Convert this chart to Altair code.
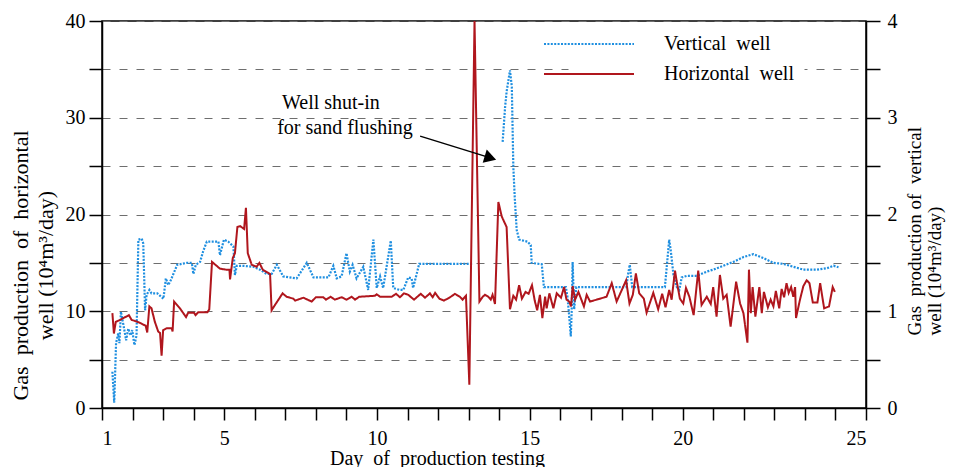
import altair as alt
import pandas as pd

FONT = "Liberation Serif"
V_NAME = "Vertical\u00a0 well"
H_NAME = "Horizontal\u00a0 well"

# Horizontal well gas production (10^4 m3/day, left axis): (day, value)
horizontal_points = [
    (1.34, 9.8), (1.39, 7.7), (1.45, 8.9), (1.59, 9.1), (1.88, 9.6), (1.97, 9.1),
    (2.08, 9.0), (2.24, 8.8), (2.43, 8.5), (2.48, 7.8), (2.55, 10.5), (2.62, 10.3),
    (2.73, 8.9), (2.84, 7.9), (2.90, 7.75), (2.95, 5.4), (3.00, 8.05), (3.12, 8.25),
    (3.28, 8.25), (3.31, 7.9), (3.36, 11.0), (3.55, 10.3), (3.75, 9.4), (3.82, 9.85),
    (4.01, 9.85), (4.06, 9.6), (4.15, 9.9), (4.45, 9.9), (4.51, 10.2), (4.60, 15.1),
    (4.86, 14.4), (5.06, 14.3), (5.17, 14.3), (5.19, 13.3), (5.28, 15.5), (5.35, 16.0),
    (5.43, 18.7), (5.52, 18.8), (5.65, 18.5), (5.71, 20.7), (5.77, 16.0), (5.90, 14.8),
    (6.06, 14.6), (6.15, 15.0), (6.26, 14.3), (6.50, 13.85), (6.55, 10.1), (6.66, 10.65),
    (6.91, 11.85), (7.04, 11.5), (7.26, 11.3), (7.32, 11.1), (7.59, 11.4), (7.86, 11.0),
    (8.00, 11.45), (8.24, 11.45), (8.33, 11.2), (8.48, 11.5), (8.62, 11.2), (8.84, 11.45),
    (9.00, 11.2), (9.17, 11.5), (9.28, 11.2), (9.42, 11.5), (9.93, 11.6), (9.99, 11.75),
    (10.10, 11.5), (10.48, 11.5), (10.62, 11.8), (10.75, 11.45), (10.88, 11.85), (11.02, 11.7),
    (11.21, 11.2), (11.43, 11.8), (11.57, 11.4), (11.73, 11.85), (11.82, 11.45), (11.90, 11.9),
    (12.04, 11.3), (12.19, 11.1), (12.39, 11.45), (12.55, 11.8), (12.71, 11.5), (12.80, 11.2),
    (12.91, 11.6), (13.02, 2.4), (13.19, 40.0), (13.35, 11.0), (13.46, 11.5), (13.53, 11.7),
    (13.64, 11.5), (13.72, 11.2), (13.78, 11.7), (13.86, 10.75), (13.97, 21.3), (14.08, 19.8),
    (14.24, 18.7), (14.35, 10.2), (14.46, 11.6), (14.55, 11.2), (14.65, 12.7), (14.74, 11.3),
    (14.86, 12.0), (14.96, 11.8), (15.07, 12.7), (15.16, 11.1), (15.24, 10.1), (15.33, 11.7),
    (15.41, 9.3), (15.50, 11.5), (15.55, 10.3), (15.64, 11.85), (15.77, 10.3), (15.88, 11.85),
    (16.02, 11.4), (16.12, 12.5), (16.20, 11.2), (16.29, 11.0), (16.35, 10.5), (16.40, 12.6),
    (16.48, 11.2), (16.59, 12.0), (16.77, 10.5), (16.86, 11.7), (16.97, 11.0), (17.51, 11.5),
    (17.68, 12.9), (17.84, 11.0), (18.15, 13.2), (18.26, 10.8), (18.37, 11.7), (18.47, 13.9),
    (18.58, 11.85), (18.73, 11.3), (18.82, 9.85), (19.04, 11.9), (19.20, 10.2), (19.33, 11.8),
    (19.44, 10.4), (19.56, 12.2), (19.64, 11.2), (19.75, 14.2), (19.80, 13.2), (19.91, 11.3),
    (20.02, 10.8), (20.11, 12.4), (20.22, 11.5), (20.36, 9.6), (20.51, 14.2), (20.62, 10.65),
    (20.79, 11.5), (20.92, 10.75), (21.00, 12.5), (21.11, 9.45), (21.22, 13.75), (21.33, 11.3),
    (21.44, 11.7), (21.57, 8.4), (21.75, 13.05), (21.88, 10.8), (21.99, 9.8), (22.12, 6.75),
    (22.17, 14.3), (22.23, 9.8), (22.29, 12.5), (22.38, 9.45), (22.51, 12.5), (22.59, 9.8),
    (22.66, 12.0), (22.79, 10.4), (22.88, 11.2), (22.97, 10.5), (23.05, 12.1), (23.16, 10.3),
    (23.24, 12.3), (23.32, 11.45), (23.40, 12.9), (23.47, 11.9), (23.55, 12.5), (23.62, 11.5),
    (23.68, 12.5), (23.71, 9.3), (23.84, 11.2), (23.95, 12.6), (24.06, 13.2), (24.15, 12.9),
    (24.26, 10.9), (24.41, 10.9), (24.50, 12.9), (24.63, 10.3), (24.79, 10.5), (24.91, 12.5),
    (24.98, 12.0),
]

# Vertical well gas production (10^4 m3/day, right axis), before shut-in
vertical_before = [
    (1.34, 0.375), (1.40, 0.055), (1.46, 0.67), (1.53, 0.77), (1.57, 0.67), (1.62, 0.995),
    (1.70, 0.86), (1.79, 0.70), (1.86, 0.82), (1.94, 0.75), (1.99, 0.805), (2.06, 0.65),
    (2.13, 0.75), (2.19, 1.74), (2.30, 1.75), (2.35, 1.70), (2.41, 1.01), (2.46, 1.17),
    (2.55, 1.22), (2.62, 1.185), (2.81, 1.185), (3.01, 1.13), (3.09, 1.34), (3.17, 1.27),
    (3.25, 1.32), (3.46, 1.48), (3.77, 1.50), (3.94, 1.50), (3.99, 1.385), (4.07, 1.48),
    (4.21, 1.51), (4.31, 1.62), (4.43, 1.72), (4.81, 1.72), (4.86, 1.58), (4.99, 1.74),
    (5.13, 1.72), (5.30, 1.67), (5.35, 1.375), (5.41, 1.47), (5.62, 1.47), (5.95, 1.46),
    (6.17, 1.43), (6.39, 1.385), (6.55, 1.385), (6.72, 1.48), (6.93, 1.36), (7.37, 1.34),
    (7.70, 1.50), (7.92, 1.35), (8.41, 1.35), (8.57, 1.47), (8.68, 1.34), (8.84, 1.36),
    (9.00, 1.60), (9.11, 1.41), (9.20, 1.48), (9.33, 1.34), (9.55, 1.46), (9.71, 1.22),
    (9.88, 1.74), (9.99, 1.24), (10.10, 1.36), (10.20, 1.24), (10.45, 1.73), (10.53, 1.24),
    (10.75, 1.22), (10.86, 1.22), (11.02, 1.35), (11.13, 1.34), (11.18, 1.24), (11.38, 1.49),
    (13.15, 1.49),
]

# Vertical well, after shut-in
vertical_after = [
    (14.11, 2.75), (14.19, 3.11), (14.24, 3.27), (14.30, 3.39), (14.35, 3.49), (14.41, 3.32),
    (14.46, 2.49), (14.51, 2.15), (14.57, 1.84), (14.65, 1.74), (14.92, 1.72), (15.03, 1.685),
    (15.06, 1.50), (15.39, 1.485), (15.46, 1.25), (16.18, 1.25), (16.23, 1.15), (16.28, 0.98),
    (16.34, 0.74), (16.37, 1.01), (16.40, 1.51), (16.45, 1.02), (16.52, 1.25), (18.16, 1.25),
    (18.21, 1.375), (18.27, 1.48), (18.35, 1.25), (19.42, 1.25), (19.48, 1.46), (19.56, 1.74),
    (19.61, 1.63), (19.70, 1.375), (19.80, 1.255), (19.89, 1.22), (19.97, 1.35), (20.13, 1.365),
    (20.46, 1.365), (20.79, 1.41), (21.00, 1.43), (21.33, 1.47), (21.66, 1.51), (21.99, 1.56),
    (22.31, 1.59), (22.64, 1.55), (22.97, 1.50), (23.29, 1.49), (23.62, 1.46), (23.95, 1.43),
    (24.39, 1.43), (24.72, 1.445), (24.94, 1.47), (25.10, 1.455),
]

x_ticks = list(range(1, 27))
left_ticks = [0, 5, 10, 15, 20, 25, 30, 35, 40]
right_ticks = [0, 0.5, 1, 1.5, 2, 2.5, 3, 3.5, 4]

annotation_labels = ["Well shut-in", "for sand flushing"]
annotation_day = [8.49, 8.95]
annotation_level = [31.5, 28.9]
arrow_from = (11.41, 28.1)
arrow_to = (13.71, 25.85)

# ---------------- data frames ----------------
h_df = pd.DataFrame(horizontal_points, columns=["day", "gas"])
h_df["series"] = H_NAME
h_df["seg"] = 0
vb = pd.DataFrame(vertical_before, columns=["day", "gas"])
vb["seg"] = 0
va = pd.DataFrame(vertical_after, columns=["day", "gas"])
va["seg"] = 1
v_df = pd.concat([vb, va], ignore_index=True)
v_df["series"] = V_NAME

ann_df = pd.DataFrame({"day": annotation_day, "gas": annotation_level, "label": annotation_labels})
arrow_df = pd.DataFrame({"day": [arrow_from[0]], "gas": [arrow_from[1]],
                         "day2": [arrow_to[0]], "gas2": [arrow_to[1]]})
head_df = pd.DataFrame({"day": [arrow_to[0]], "gas": [arrow_to[1]]})

# ---------------- encodings ----------------
color_scale = alt.Scale(domain=[V_NAME, H_NAME], range=["#1f8fe0", "#b0161d"])
dash_scale = alt.Scale(domain=[V_NAME, H_NAME], range=[[2, 1.4], [1, 0]])
legend = alt.Legend(
    title=None, orient="none", legendX=466, legendY=2, direction="vertical",
    symbolType="M-4.5,0H4.5", symbolSize=400, symbolStrokeWidth=2, symbolFillColor="transparent",
    labelFont=FONT, labelFontSize=20, labelColor="black", labelOffset=64,
    rowPadding=9, padding=10, fillColor="white", strokeColor="transparent",
)

x_enc = alt.X(
    "day:Q",
    scale=alt.Scale(domain=[1, 26], nice=False, zero=False),
    axis=alt.Axis(
        values=x_ticks,
        labelExpr="datum.value == 26 ? '25' : ((datum.value == 1 || (datum.value % 5 == 0 && datum.value != 25)) ? datum.label : '')",
        tickSize=12, labelPadding=8, grid=False, labelFontSize=20,
        title="Day\u00a0 of\u00a0 production testing", titleFontSize=20,
        titleX=335, titleY=50, titleAlign="center", titleBaseline="middle",
    ),
)

y_left = alt.Y(
    "gas:Q",
    scale=alt.Scale(domain=[0, 40], nice=False, zero=True),
    axis=alt.Axis(
        orient="left", values=left_ticks,
        labelExpr="datum.value % 10 == 0 ? datum.label : ''",
        tickSize=13, labelPadding=4, labelFontSize=20,
        grid=True, gridDash=[8, 9], gridColor="#6e6e6e", gridWidth=1,
        title=["Gas\u00a0 production\u00a0 of\u00a0 horizontal", "well (10\u2074m\u00b3/day)"],
        titleFontSize=22, titleAngle=-90, titleX=-92, titleY=244,
        titleAlign="center", titleBaseline="top", titleLineHeight=25,
    ),
)

y_right = alt.Y(
    "gas:Q",
    scale=alt.Scale(domain=[0, 4], nice=False, zero=True),
    axis=alt.Axis(
        orient="right", values=right_ticks,
        labelExpr="datum.value % 1 == 0 ? format(datum.value, 'd') : ''",
        tickSize=14, labelPadding=7, labelFontSize=20, grid=False,
        title=["Gas\u00a0 production of\u00a0 vertical", "well (10\u2074m\u00b3/day)"],
        titleFontSize=19, titleAngle=-90, titleX=39, titleY=314,
        titleAlign="left", titleBaseline="top", titleLineHeight=20,
    ),
)

color_enc = alt.Color("series:N", scale=color_scale, legend=legend)
dash_enc = alt.StrokeDash("series:N", scale=dash_scale, legend=legend)

vertical = alt.Chart(v_df).mark_line(strokeWidth=2.2, clip=True).encode(
    x=x_enc, y=y_right, color=color_enc, strokeDash=dash_enc, detail="seg:N",
)

horizontal = alt.Chart(h_df).mark_line(strokeWidth=2, clip=True).encode(
    x=x_enc, y=y_left, color=color_enc, strokeDash=dash_enc, detail="seg:N",
)

ann_text = alt.Chart(ann_df).mark_text(
    font=FONT, fontSize=20, color="black", align="center", baseline="middle"
).encode(x=x_enc, y=y_left, text="label:N")

arrow_line = alt.Chart(arrow_df).mark_rule(color="black", strokeWidth=1.5).encode(
    x=x_enc, y=y_left, x2=alt.X2("day2"), y2=alt.Y2("gas2"),
)

arrow_head = alt.Chart(head_df).mark_point(
    shape="triangle-right", filled=True, color="black", size=190, angle=17, opacity=1
).encode(x=x_enc, y=y_left)

left_group = alt.layer(horizontal, ann_text, arrow_line, arrow_head)

chart = (
    alt.layer(vertical, left_group)
    .resolve_scale(y="independent")
    .properties(
        width=764, height=387,
        padding={"left": 94, "top": 13, "right": 80, "bottom": 59},
        autosize=alt.AutoSizeParams(type="none"),
    )
    .configure_view(stroke="black", strokeWidth=1.5)
    .configure_axis(
        labelFont=FONT, titleFont=FONT, labelColor="black", titleColor="black",
        domainColor="black", tickColor="black", domainWidth=1.5, tickWidth=1.5,
        titleFontWeight="normal",
    )
)

chart.save("out.html", embed_options={"renderer": "svg", "actions": False})
